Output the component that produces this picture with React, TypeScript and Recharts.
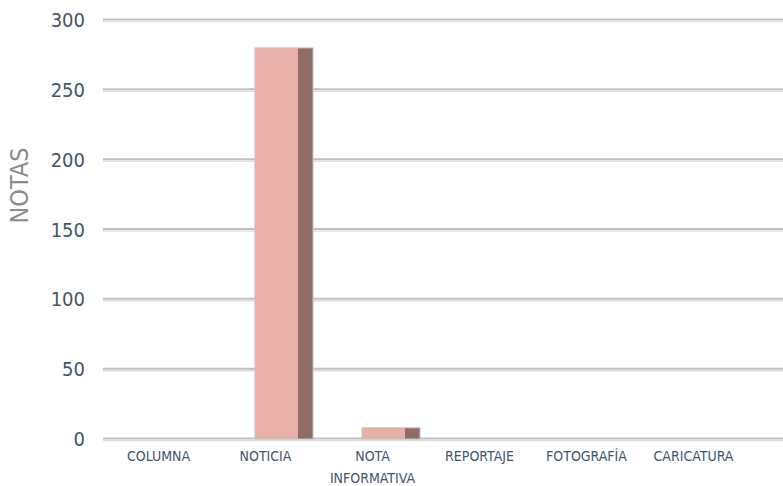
import { BarChart, Bar, XAxis, YAxis, CartesianGrid } from "recharts";

const categories = ["COLUMNA", "NOTICIA", "NOTA INFORMATIVA", "REPORTAJE", "FOTOGRAFÍA", "CARICATURA"];
const notas = [0, 280, 8, 0, 0, 0];
const yTicks = [0, 50, 100, 150, 200, 250, 300];

const data = categories.map((name, i) => ({ name, notas: notas[i] }));

const FONT = "'Liberation Sans Narrow', 'DejaVu Sans Condensed', sans-serif";
const FRONT = "#e8b0a8";
const SIDE = "#8f6d67";

const GridLine = (props: any) => {
  const { x1, x2, y1 } = props;
  return (
    <g key={props.key ?? `g-${y1}`}>
      <line x1={x1} x2={x2} y1={y1 - 0.5} y2={y1 - 0.5} stroke="#c0c0c0" strokeWidth={2} />
      <line x1={x1} x2={x2} y1={y1 + 1.5} y2={y1 + 1.5} stroke="#e0e0e0" strokeWidth={1.5} />
    </g>
  );
};

const Bar3D = (props: any) => {
  const { x, y, width, height } = props;
  if (!height || height <= 0) return null;
  const fx = x + 11;
  const sideW = 15;
  return (
    <g>
      <rect x={fx} y={y} width={width} height={height} fill={FRONT} />
      <rect x={fx + width} y={y} width={sideW} height={height} fill={SIDE} />
      <rect
        x={fx}
        y={y}
        width={width + sideW}
        height={height}
        fill="none"
        stroke="#c9c2c1"
        strokeWidth={1}
      />
    </g>
  );
};

const XTick = (props: any) => {
  const { x, y, payload } = props;
  const words = String(payload.value).split(" ");
  return (
    <text x={x} y={y} textAnchor="middle" fill="#44546a" fontFamily={FONT} fontSize={14}>
      {words.map((w, i) => (
        <tspan key={w} x={x} dy={i === 0 ? 14 : 22}>
          {w}
        </tspan>
      ))}
    </text>
  );
};

const YLabel = (props: any) => {
  const { viewBox } = props;
  const cx = viewBox.x + 28;
  const cy = viewBox.y + viewBox.height / 2 - 44;
  return (
    <text
      x={cx}
      y={cy}
      transform={`rotate(-90, ${cx}, ${cy})`}
      textAnchor="middle"
      fill="#8c8c8c"
      fontFamily={FONT}
      fontSize={25}
    >
      NOTAS
    </text>
  );
};

export default function App() {
  return (
    <div style={{ position: "absolute", left: 0, top: 0, width: 783, height: 486, background: "#fff", overflow: "hidden" }}>
      <BarChart width={783} height={486} data={data} margin={{ top: 20, right: 0, bottom: 0, left: 0 }}>
        <CartesianGrid vertical={false} horizontal={GridLine} />
        <XAxis
          dataKey="name"
          axisLine={false}
          tickLine={false}
          interval={0}
          height={47}
          padding={{ left: 2, right: 36 }}
          tick={XTick}
        />
        <YAxis
          domain={[0, 300]}
          ticks={yTicks}
          width={103}
          axisLine={false}
          tickLine={false}
          tickSize={0}
          tickMargin={18}
          tick={{ fill: "#44546a", fontFamily: FONT, fontSize: 20 }}
          label={<YLabel />}
        />
        <Bar dataKey="notas" barSize={43} shape={Bar3D} isAnimationActive={false} />
      </BarChart>
    </div>
  );
}
